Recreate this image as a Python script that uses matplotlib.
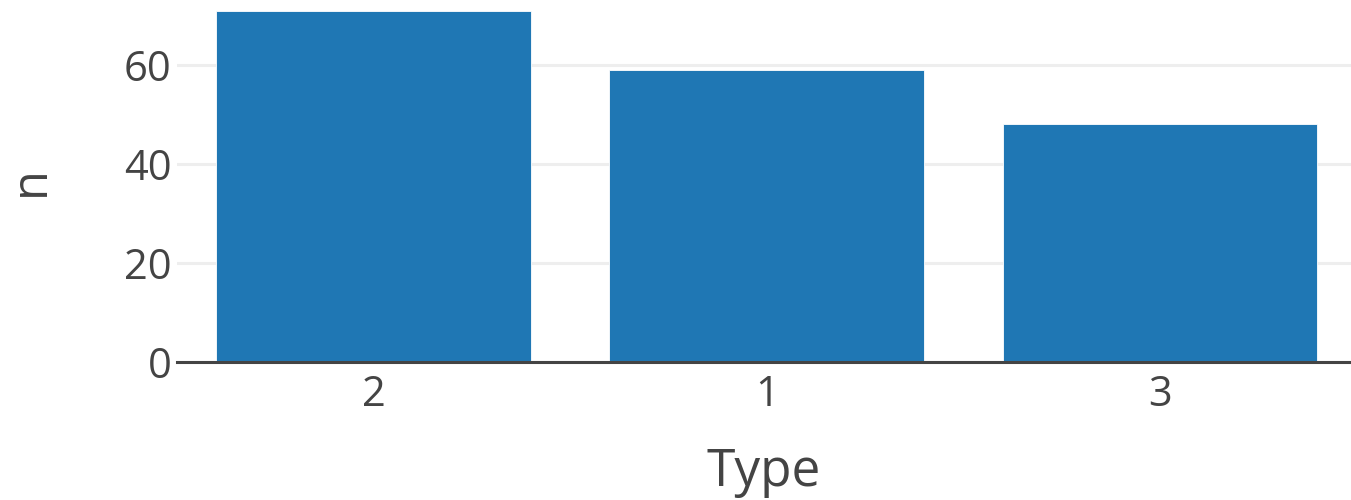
import numpy as np
import matplotlib
matplotlib.use("Agg")
import matplotlib.pyplot as plt

plt.rcParams['font.family'] = ['Open Sans', 'DejaVu Sans']

types = ["2", "1", "3"]
counts = [71, 59, 48]

fig = plt.figure(figsize=(13.51, 5.0), dpi=100)
ax = fig.add_axes([177/1351, 138.5/500, 1 - 177/1351, 361.5/500])

x = np.arange(len(types))
ax.bar(x, counts, width=0.8, color="#1f77b4", edgecolor="white", linewidth=0.6, zorder=3)

ax.set_xlim(-0.5, 2.486)
ax.set_ylim(0, 73.2)
ax.set_xticks(x)
ax.set_xticklabels(types)
ax.set_yticks([0, 20, 40, 60])

for s in ax.spines.values():
    s.set_visible(False)
ax.axhline(0, color="#444444", linewidth=2.2, zorder=4, clip_on=False)
ax.grid(axis="y", color="#eeeeee", linewidth=2.2, zorder=0)
ax.tick_params(axis="both", length=0, labelsize=30, labelcolor="#444444")
ax.tick_params(axis="y", pad=4)
ax.tick_params(axis="x", pad=9)

ax.set_xlabel("Type", fontsize=37, color="#444444", labelpad=22)
ax.set_ylabel("n", fontsize=35, color="#444444")
ax.yaxis.set_label_coords(-0.103, 0.5)

fig.savefig("out.png", dpi=100)
